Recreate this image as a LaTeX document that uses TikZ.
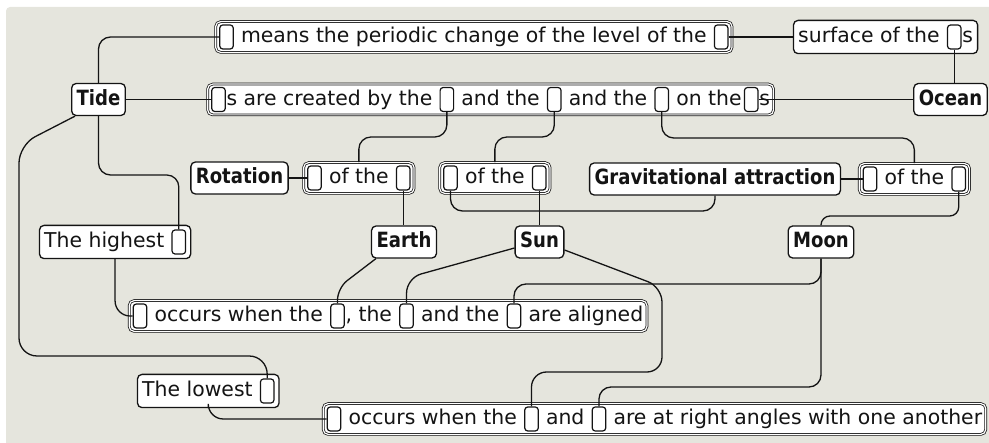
\documentclass[tikz,border=0pt]{standalone}
\usepackage{fontspec}
\setmainfont{DejaVu Sans}[BoldFeatures={FakeStretch=0.86}]
\usetikzlibrary{positioning,fit}
\pgfdeclarelayer{bgl}
\pgfdeclarelayer{mid}
\pgfsetlayers{bgl,mid,main}
\definecolor{bgc}{HTML}{E5E5DD}
\definecolor{ink}{HTML}{141414}
\begin{document}
\begin{tikzpicture}[x=1pt,y=1pt, line width=1.2pt, ink,
 slot/.style={draw=ink, fill=white, rounded corners=3pt, minimum width=13.5pt, minimum height=24pt, inner sep=0pt, line width=1.2pt},
 txt/.style={inner sep=0pt, text height=15pt, text depth=3pt, font=\fontsize{20.4}{24}\selectfont, text=ink},
 cnode/.style={draw=ink, fill=white, rounded corners=4.5pt, inner xsep=5pt, inner ysep=0pt, minimum height=32pt, text height=15pt, text depth=3pt, font=\fontsize{21}{24}\selectfont\bfseries, text=ink, line width=1.3pt},
 sbox/.style={draw=ink, fill=white, rounded corners=4.5pt, inner xsep=4.5pt, inner ysep=4pt, line width=1.3pt},
 dbox/.style={draw=ink, double=white, double distance=1.2pt, line width=0.75pt, fill=white, rounded corners=5pt, inner xsep=3.5pt, inner ysep=2.8pt},
 conn/.style={draw=ink, line width=1.3pt, rounded corners=12pt}]
\useasboundingbox (0,0) rectangle (989,-443);
\begin{pgfonlayer}{bgl}
\fill[bgc, rounded corners=4pt] (6,-7) rectangle (1000,-460);
\end{pgfonlayer}

% Row 1
\node[slot] (n1a) at (226.5,-37) {};
\node[txt, right=7pt of n1a] (n1t) {means the periodic change of the level of the};
\node[slot, right=7pt of n1t] (n1b) {};
\begin{pgfonlayer}{bgl}\node[dbox, fit=(n1a)(n1b)] (n1) {};\end{pgfonlayer}

\node[txt, anchor=west] (n2t) at (798,-37) {surface of the};
\node[slot, right=7pt of n2t] (n2s) {};
\node[txt, right=0.5pt of n2s] (n2u) {s};
\begin{pgfonlayer}{bgl}\node[sbox, fit=(n2t)(n2s)(n2u)] (n2) {};\end{pgfonlayer}

% Row 2
\node[cnode] (tide) at (98.5,-99.5) {Tide};
\node[slot] (n3a) at (218.5,-99.5) {};
\node[txt, right=0.5pt of n3a] (n3t1) {s are created by the};
\node[slot, right=7pt of n3t1] (n3b) {};
\node[txt, right=7pt of n3b] (n3t2) {and the};
\node[slot, right=7pt of n3t2] (n3c) {};
\node[txt, right=7pt of n3c] (n3t3) {and the};
\node[slot, right=7pt of n3t3] (n3d) {};
\node[txt, right=7pt of n3d] (n3t4) {on the};
\node[slot, right=2pt of n3t4] (n3e) {};
\node[txt, right=0.5pt of n3e] (n3t5) {s};
\begin{pgfonlayer}{bgl}\node[dbox, fit=(n3a)(n3t5)(n3e)] (n3) {};\end{pgfonlayer}
\node[cnode] (ocean) at (950.5,-99.5) {Ocean};

% Row 3
\node[cnode] (rot) at (239.5,-178) {Rotation};
\node[slot] (n4a) at (314.5,-178) {};
\node[txt, right=7pt of n4a] (n4t) {of the};
\node[slot, right=7pt of n4t] (n4b) {};
\begin{pgfonlayer}{bgl}\node[dbox, fit=(n4a)(n4b)] (n4) {};\end{pgfonlayer}

\node[slot] (n5a) at (450.5,-178) {};
\node[txt, right=7pt of n5a] (n5t) {of the};
\node[slot, right=7pt of n5t] (n5b) {};
\begin{pgfonlayer}{bgl}\node[dbox, fit=(n5a)(n5b)] (n5) {};\end{pgfonlayer}

\node[cnode] (grav) at (715,-179) {Gravitational attraction};
\node[slot] (n6a) at (870,-179) {};
\node[txt, right=7pt of n6a] (n6t) {of the};
\node[slot, right=7pt of n6t] (n6b) {};
\begin{pgfonlayer}{bgl}\node[dbox, fit=(n6a)(n6b)] (n6) {};\end{pgfonlayer}

% Row 4
\node[txt, anchor=west] (hit) at (44,-242) {The highest};
\node[slot, right=7pt of hit] (hs) {};
\begin{pgfonlayer}{bgl}\node[sbox, fit=(hit)(hs)] (hi) {};\end{pgfonlayer}
\node[cnode] (earth) at (404,-242) {Earth};
\node[cnode] (sun) at (539.5,-242) {Sun};
\node[cnode] (moon) at (821,-242) {Moon};

% Row 5
\node[slot] (n7a) at (140,-316) {};
\node[txt, right=7pt of n7a] (n7t1) {occurs when the};
\node[slot, right=7pt of n7t1] (n7b) {};
\node[txt, right=0.5pt of n7b] (n7t2) {, the};
\node[slot, right=7pt of n7t2] (n7c) {};
\node[txt, right=7pt of n7c] (n7t3) {and the};
\node[slot, right=7pt of n7t3] (n7d) {};
\node[txt, right=7pt of n7d] (n7t4) {are aligned};
\begin{pgfonlayer}{bgl}\node[dbox, fit=(n7a)(n7t4)] (n7) {};\end{pgfonlayer}

% Row 6
\node[txt, anchor=west] (lot) at (142,-391) {The lowest};
\node[slot, right=7pt of lot] (lws) {};
\begin{pgfonlayer}{bgl}\node[sbox, fit=(lot)(lws)] (lo) {};\end{pgfonlayer}

\node[slot] (n8a) at (334,-419) {};
\node[txt, right=7pt of n8a] (n8t1) {occurs when the};
\node[slot, right=7pt of n8t1] (n8b) {};
\node[txt, right=7pt of n8b] (n8t2) {and};
\node[slot, right=7pt of n8t2] (n8c) {};
\node[txt, right=7pt of n8c] (n8t3) {are at right angles with one another};
\begin{pgfonlayer}{bgl}\node[dbox, fit=(n8a)(n8t3)] (n8) {};\end{pgfonlayer}

% Connectors
\begin{pgfonlayer}{mid}
\draw[conn] (tide.north) |- (n1a.west);
\draw[conn] (n1b.east) -- (n2.west);
\draw[conn] (n2s.south) -- (n2s.south |- ocean.north);
\draw[conn] (tide.east) -- (n3a.west);
\draw[conn] (ocean.west) -- (n3e.east);
\draw[conn] (n3b.south) -- (n3b.south |- 0,-137) -- (n4.north |- 0,-137) -- (n4.north);
\draw[conn] (n3c.south) -- (n3c.south |- 0,-137) -- (n5.north |- 0,-137) -- (n5.north);
\draw[conn] (n3d.south) -- (n3d.south |- 0,-138) -- (n6.north |- 0,-138) -- (n6.north);
\draw[conn] (rot.east) -- (n4a.west);
\draw[conn] (grav.east) -- (n6a.west);
\draw[conn] (n4b.south) -- (n4b.south |- earth.north);
\draw[conn] (n5b.south) -- (n5b.south |- sun.north);
\draw[conn] (n5a.south) -- (n5a.south |- 0,-211) -- (grav.south |- 0,-211) -- (grav.south);
\draw[conn, rounded corners=9pt] (n6b.south) -- (n6b.south |- 0,-216) -- (moon.north |- 0,-216) -- (moon.north);
\draw[conn] (tide.south) -- (tide.south |- 0,-175) -- (hs.north |- 0,-175) -- (hs.north);
\draw[conn, rounded corners=18pt] ([xshift=4pt]tide.south west) -- (19,-145) -- (19,-356) -- (lws.north |- 0,-356) -- (lws.north);
\draw[conn, rounded corners=15pt] (hi.south) |- (n7a.west);
\draw[conn, rounded corners=15pt] (lo.south) |- (n8a.west);
\draw[conn] ([xshift=5pt]earth.south west) -- (n7b.north |- 0,-288) -- (n7b.north);
\draw[conn, rounded corners=15pt] ([yshift=-6pt]sun.west) -- (n7c.north |- 0,-278) -- (n7c.north);
\draw[conn, rounded corners=15pt] ([yshift=-8pt]sun.east) -- (662,-287) -- (662,-372) -- (n8b.north |- 0,-372) -- (n8b.north);
\draw[conn] (moon.south) -- (moon.south |- 0,-284) -- (n7d.north |- 0,-284) -- (n7d.north);
\draw[conn] (moon.south) -- (moon.south |- 0,-387) -- (n8c.north |- 0,-387) -- (n8c.north);
\end{pgfonlayer}
\end{tikzpicture}
\end{document}
